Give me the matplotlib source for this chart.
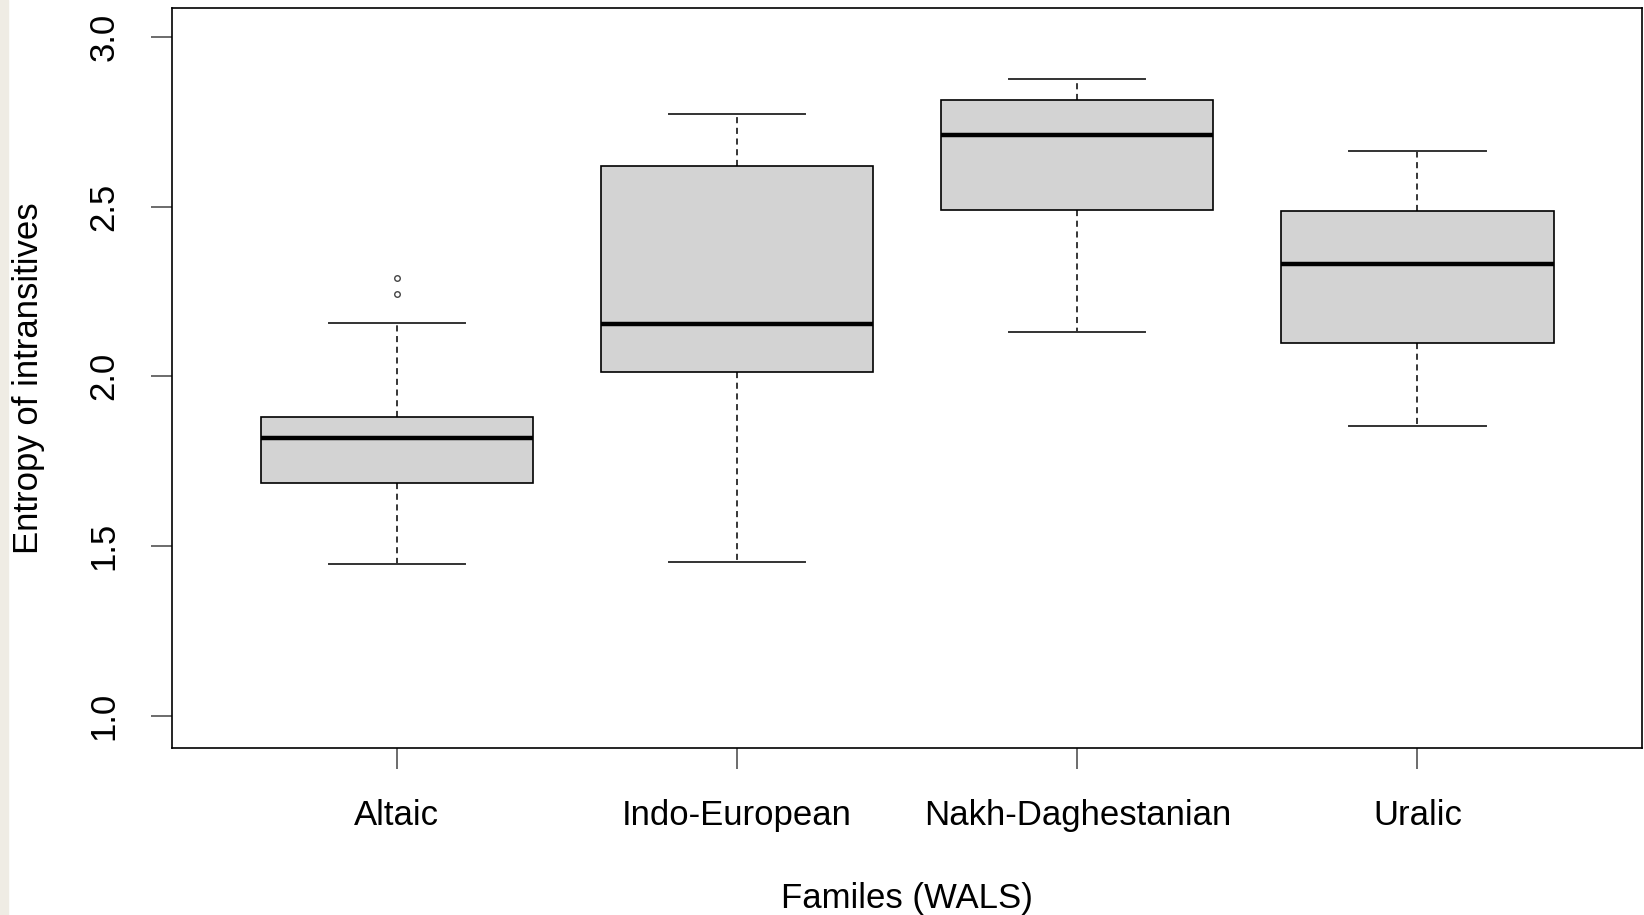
import matplotlib.pyplot as plt
from matplotlib.patches import Rectangle

families = ['Altaic', 'Indo-European', 'Nakh-Daghestanian', 'Uralic']
whisker_low = [1.446, 1.452, 2.130, 1.855]
q1 = [1.687, 2.012, 2.489, 2.099]
medians = [1.817, 2.155, 2.712, 2.331]
q3 = [1.879, 2.619, 2.814, 2.486]
whisker_high = [2.158, 2.774, 2.876, 2.663]
outliers = [[2.241, 2.291], [], [], []]

plt.rcParams['font.family'] = ['Liberation Sans', 'DejaVu Sans']

stats = []
for i, name in enumerate(families):
    stats.append({'label': name, 'whislo': whisker_low[i], 'q1': q1[i],
                  'med': medians[i], 'q3': q3[i], 'whishi': whisker_high[i],
                  'fliers': outliers[i]})

fig = plt.figure(figsize=(16.44, 9.15), dpi=100)
fig.patches.append(Rectangle((0, 0), 0.005, 1, transform=fig.transFigure,
                             color='#efece4', zorder=-1))
ax = fig.add_axes([0.1046, 0.1825, 0.8942, 0.8088])

ax.bxp(stats, positions=[1, 2, 3, 4], widths=0.8, patch_artist=True,
       boxprops=dict(facecolor='#d3d3d3', edgecolor='black', linewidth=1.2),
       medianprops=dict(color='black', linewidth=3.2),
       whiskerprops=dict(color='black', linewidth=1.1, linestyle=(0, (4, 3))),
       capprops=dict(color='#333333', linewidth=1.4),
       capwidths=0.4,
       flierprops=dict(marker='o', markersize=4, markerfacecolor='none',
                       markeredgecolor='#444444', markeredgewidth=1))

ax.set_xlim(0.339, 4.66)
ax.set_ylim(0.905, 3.085)
ax.set_yticks([1.0, 1.5, 2.0, 2.5, 3.0])
ax.set_yticklabels(['1.0', '1.5', '2.0', '2.5', '3.0'], rotation=90, va='center')
ax.tick_params(axis='both', length=15, width=1.1, color='#444444', labelsize=25,
               pad=22)
for s in ax.spines.values():
    s.set_linewidth(1.2)
ax.set_xlabel('Familes (WALS)', fontsize=25, labelpad=36)
ax.set_ylabel('Entropy of intransitives', fontsize=25, labelpad=31)

fig.savefig('out.png', dpi=100)
